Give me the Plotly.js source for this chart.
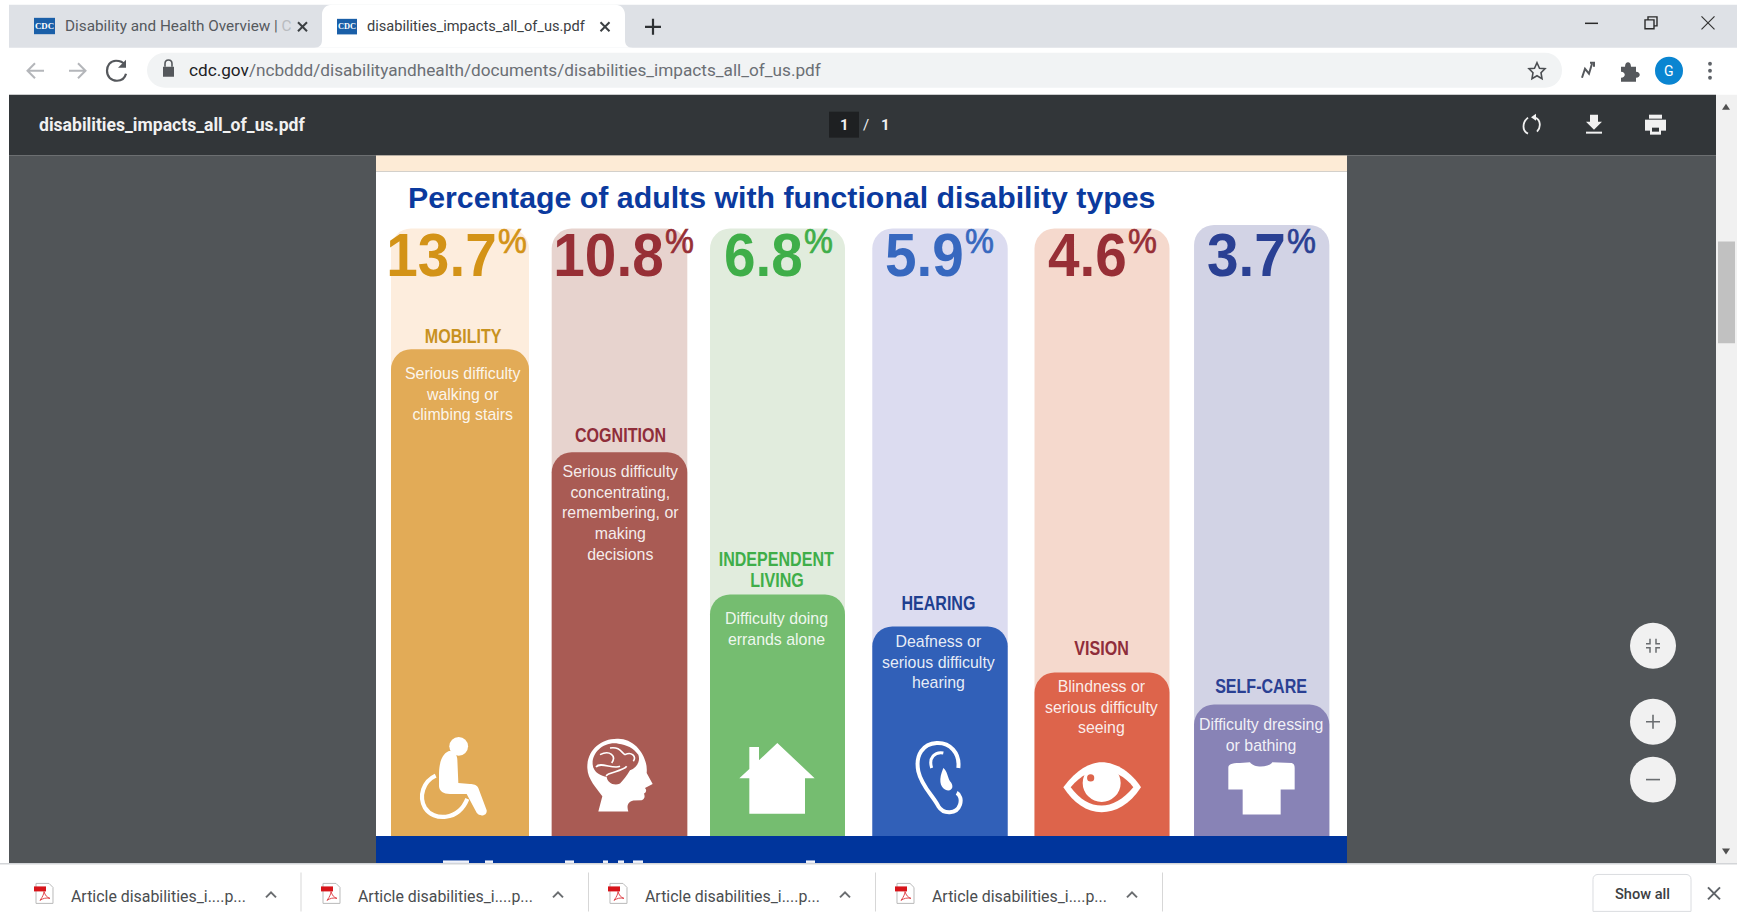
<!DOCTYPE html>
<html>
<head>
<meta charset="utf-8">
<title>Percentage of adults with functional disability types</title>
<script src="https://cdn.plot.ly/plotly-3.0.1.min.js"></script>
<style>html,body{margin:0;padding:0;background:#fff;overflow:hidden}#chart{width:1737px;height:912px}</style>
</head>
<body>
<div id="chart"></div>
<script>
// ---- chart data ----
const categories = ['MOBILITY', 'COGNITION', 'INDEPENDENT LIVING', 'HEARING', 'VISION', 'SELF-CARE'];
const labelLines = [['MOBILITY'], ['COGNITION'], ['INDEPENDENT', 'LIVING'], ['HEARING'], ['VISION'], ['SELF-CARE']];
const prevalence = [13.7, 10.8, 6.8, 5.9, 4.6, 3.7];
const panelHeight = [17.1, 17.1, 17.1, 17.1, 17.1, 17.2];
const descriptions = [
  'Serious difficulty<br>walking or<br>climbing stairs',
  'Serious difficulty<br>concentrating,<br>remembering, or<br>making<br>decisions',
  'Difficulty doing<br>errands alone',
  'Deafness or<br>serious difficulty<br>hearing',
  'Blindness or<br>serious difficulty<br>seeing',
  'Difficulty dressing<br>or bathing'
];
const chartTitle = 'Percentage of adults with functional disability types';

// ---- styles ----
const panelColors = ['#fdeddd', '#e7d3ce', '#e1ecdd', '#dcdcf0', '#f5d9cd', '#d2d3e5'];
const barColors = ['#e2ab57', '#a95b54', '#75bd70', '#3160b8', '#dd644b', '#8883b6'];
const numberColors = ['#d39317', '#972f36', '#3fae49', '#3768bf', '#972f36', '#2a4093'];
const labelColors = ['#c8921f', '#8f2d3a', '#3fae49', '#1f3f90', '#8f2d3a', '#2a4093'];
const slotNudge = [0, -0.5, -2.5, 0, 2, 1.7];   // px
const barPx = [138, 135.6, 135, 135.4, 135, 135.3];
const numberJoin = [37, 44, 22.5, 23.5, 27, 26]; // px right of slot centre
const labelShiftX = [2.7, 0, -3.4, -1.5, 1.7, 0.7];
const labelGap = [14, 18, 35.5, 24, 25, 19];
const descGap = [25, 20, 25, 16, 14, 20];

// ---- page geometry ----
const W = 1737, H = 912, L = 380, R = 397, T = 224.5, B = 75.5;
const PW = W - L - R, PH = H - T - B, SLOT = PW / 6;
const px = x => (x - L) / PW;
const py = y => (H - B - y) / PH;
const shapes = [], annos = [];

function rect(x0, y0, x1, y1, fill, layer) {
  shapes.push({type:'rect', xref:'paper', yref:'paper', x0:px(x0), x1:px(x1), y0:py(y0), y1:py(y1),
    fillcolor:fill, line:{width:0}, layer:layer||'below'});
}
function circ(cx, cy, r, fill, layer) {
  shapes.push({type:'circle', xref:'paper', yref:'paper', x0:px(cx-r), x1:px(cx+r), y0:py(cy-r), y1:py(cy+r),
    fillcolor:fill, line:{width:0}, layer:layer||'above'});
}
function path(str, o) {
  o = o || {};
  const ox = o.ox||0, oy = o.oy||0, k = o.k||1;
  let isX = true;
  const d = str.replace(/-?\d+(\.\d+)?/g, n => {
    const v = Number(n);
    const out = isX ? px(ox + v*k) : py(oy + v*k);
    isX = !isX;
    return out.toFixed(5);
  });
  shapes.push({type:'path', xref:'paper', yref:'paper', path:d,
    fillcolor:o.fill||'rgba(0,0,0,0)', line:{width:o.w||0, color:o.stroke||'rgba(0,0,0,0)'}, layer:o.layer||'above'});
}
function txt(x, y, text, size, color, o) {
  o = o || {};
  annos.push({xref:'paper', yref:'paper', x:px(x), y:py(y), text:text, showarrow:false,
    xanchor:o.anchor||'left', yanchor:'middle', font:{family:o.family||'Roboto, sans-serif', size:size, color:color, weight:o.weight||400}});
}

// ---- browser window ----
rect(0, 0, W, H, '#ffffff');
rect(9, 155, 1716, 863.5, '#515558');
rect(9, 4, W, 47, '#dee1e6');
path('M 314 47 C 320 47 322 44 322 39 L 322 14 C 322 8 326 4 332 4 L 615 4 C 621 4 625 8 625 14 L 625 39 C 625 44 627 47 633 47 Z', {fill:'#ffffff', layer:'below'});
path('M 165 52 L 1545 52 C 1555 52 1562 60 1562 69.5 C 1562 79 1555 87 1545 87 L 165 87 C 155 87 147 79 147 69.5 C 147 60 155 52 165 52 Z', {fill:'#f1f3f4', layer:'below'});
rect(9, 94, 1716, 155, '#323639');
rect(1716, 94, W, 863.5, '#f1f1f1');
rect(1718, 241, 1735, 343, '#c1c1c1');
path('M 1722 109 L 1730 109 L 1726 103 Z', {fill:'#505050'});
path('M 1722 849 L 1730 849 L 1726 855 Z', {fill:'#505050'});
rect(0, 863.5, W, 865, '#d3d5d8');

// tabs
function favicon(x, y, s) {
  rect(x, y, x+s, y+s*0.78, '#1a5fa8', 'above');
  annos.push({xref:'paper', yref:'paper', x:px(x+s/2), y:py(y+s*0.38), text:'CDC', showarrow:false, xanchor:'center', yanchor:'middle',
    font:{family:'Liberation Serif, serif', size:s*0.42, color:'#ffffff', weight:700}});
}
favicon(34, 17, 21);
favicon(337, 18, 20);
txt(63, 25, 'Disability and Health Overview | <span style="color:#b9bcc0">C</span>', 15.3, '#55595e');
txt(365, 25, 'disabilities_impacts_all_of_us.pdf', 14.6, '#3c4043');
function cross(cx, cy, r, color, w) {
  path(`M ${cx-r} ${cy-r} L ${cx+r} ${cy+r} M ${cx+r} ${cy-r} L ${cx-r} ${cy+r}`, {stroke:color, w:w||2});
}
cross(302.5, 26, 4.5, '#3c4043');
cross(605, 26, 4.5, '#3c4043');
path('M 653 18 L 653 34 M 645 26 L 661 26', {stroke:'#2e3134', w:2.2});
// window controls
path('M 1585 22.5 L 1598 22.5', {stroke:'#2a2a2a', w:1.5});
path('M 1645 19 L 1654 19 L 1654 28 L 1645 28 Z M 1648 19 L 1648 16 L 1657 16 L 1657 25 L 1654 25', {stroke:'#2a2a2a', w:1.4});
cross(1708, 22, 6.5, '#333333', 1.2);

// omnibox row
path('M 44 70 L 28 70 M 35 62.5 L 27.5 70 L 35 77.5', {stroke:'#b4b6ba', w:2});
path('M 69 70 L 85 70 M 78 62.5 L 85.5 70 L 78 77.5', {stroke:'#b4b6ba', w:2});
path('M 125 64 C 122 60 118 60 116 60 C 110 60 107 65 107 70 C 107 76 111 80 117 80 C 122 80 125 77 126 73', {stroke:'#55585c', w:2.2});
path('M 126 59 L 126 67 L 118 67 Z', {fill:'#55585c'});
rect(163, 66, 174, 76, '#55585c', 'above');
path('M 165 66 L 165 63 C 165 58 172 58 172 63 L 172 66', {stroke:'#55585c', w:1.6});
txt(187, 69, 'cdc.gov<span style="color:#6b6f74">/ncbddd/disabilityandhealth/documents/disabilities_impacts_all_of_us.pdf</span>', 17.2, '#202124');
path('M 1537 62 L 1539.5 67.5 L 1545 68 L 1541 72 L 1542 78 L 1537 75 L 1532 78 L 1533 72 L 1529 68 L 1534.5 67.5 Z', {stroke:'#4a4d51', w:1.6});
path('M 1582 77 L 1585 68 L 1589 73 L 1592 63 M 1590 62 L 1594 62 L 1594 66', {stroke:'#55585c', w:2});
path('M 1621 66 L 1625 66 C 1625 60 1631 60 1631 66 L 1636 66 L 1636 71 C 1641 71 1641 77 1636 77 L 1636 81 L 1621 81 L 1621 77 C 1626 77 1626 71 1621 71 Z', {fill:'#55585c'});
circ(1669, 70, 14, '#0a85d1');
txt(1669, 70, 'G', 14, '#ffffff', {anchor:'center'});
circ(1710, 63, 1.9, '#5f6368'); circ(1710, 70, 1.9, '#5f6368'); circ(1710, 77, 1.9, '#5f6368');

// pdf viewer toolbar
txt(37, 124, 'disabilities_impacts_all_of_us.pdf', 17.6, '#f1f1f1', {weight:700});
rect(829, 111, 859, 137, '#1e2022');
txt(844, 124, '1', 15, '#f1f1f1', {anchor:'center', weight:700});
txt(866, 124, '/', 15, '#f1f1f1', {anchor:'center'});
txt(885, 124, '1', 15, '#f1f1f1', {anchor:'center', weight:700});
path('M 1528 117 C 1522 122 1522 130 1528 133 M 1537 131 C 1541 127 1541 119 1535 117', {stroke:'#f1f1f1', w:1.8});
path('M 1536 113 L 1536 120 L 1531 116.5 Z', {fill:'#f1f1f1'});
path('M 1590 114 L 1598 114 L 1598 121 L 1602 121 L 1594 129 L 1586 121 L 1590 121 Z', {fill:'#f1f1f1'});
rect(1586, 131, 1602, 133, '#f1f1f1', 'above');
rect(1649, 114, 1662, 118, '#f1f1f1', 'above');
rect(1645, 119, 1666, 130, '#f1f1f1', 'above');
rect(1650, 126, 1661, 134, '#f1f1f1', 'above');
rect(1652, 127, 1659, 131, '#323639', 'above');

// zoom buttons
circ(1653, 646, 23, '#f1f1f1', 'below');
circ(1653, 722, 23, '#f1f1f1', 'below');
circ(1653, 780, 23, '#f1f1f1', 'below');
path('M 1650 639 L 1650 644 L 1646 644 M 1656 639 L 1656 644 L 1660 644 M 1650 653 L 1650 648 L 1646 648 M 1656 653 L 1656 648 L 1660 648', {stroke:'#6a6d70', w:1.5});
path('M 1653 715 L 1653 729 M 1646 722 L 1660 722', {stroke:'#6a6d70', w:1.6});
path('M 1646 780 L 1660 780', {stroke:'#6a6d70', w:1.6});

// paper
rect(376, 155, 1347, 171, '#fdebd6');
rect(376, 171, 1347, 836.5, '#ffffff');
rect(376, 836.5, 1347, 863.5, '#00359c');
[[443,469],[485,493],[565,574],[603,608],[618,624],[633,643],[806,815]].forEach(s => rect(s[0], 861, s[1], 863.5, '#f2f4fa'));

// downloads bar
[34, 321, 608, 895].forEach(x => {
  path(`M ${x+2} 884 L ${x+15} 884 L ${x+19} 888 L ${x+19} 904 L ${x+2} 904 Z`, {fill:'#ffffff', stroke:'#b9b9b9', w:1});
  rect(x, 887, x+12, 892, '#d7141a', 'above');
  path(`M ${x+6} 901 C ${x+9} 897 ${x+10} 894 ${x+10} 892 C ${x+11} 896 ${x+13} 898 ${x+16} 899 C ${x+12} 898 ${x+9} 899 ${x+6} 901`, {stroke:'#e1474d', w:1});
  txt(x+35, 897.5, 'Article disabilities_i....p...', 15.9, '#4a4d50');
  path(`M ${x+232} 898 L ${x+237} 893 L ${x+242} 898`, {stroke:'#6a6d70', w:2});
});
[300.5, 588, 875, 1162].forEach(x => rect(x, 873, x+1, 912, '#d7d7d7'));
path('M 1598 875 L 1686 875 C 1689 875 1691 877 1691 880 L 1691 912 L 1593 912 L 1593 880 C 1593 877 1595 875 1598 875 Z', {fill:'#ffffff', stroke:'#dadce0', w:1});
txt(1642, 895, 'Show all', 14.6, '#3c4043', {anchor:'center', weight:500});
cross(1714, 894, 6, '#5f6368', 2);

// ---- icons, traced in zoomed frames of the infographic ----
const Lf = {ox:370, oy:640, k:1/3}, Rt = {ox:860, oy:640, k:1/3};
const F = (f, extra) => Object.assign({}, f, extra);
circ(458.7, 746.7, 9.4, '#ffffff');
path('M 235 335 C 215 345 208 370 207 400 L 207 440 C 208 455 220 463 240 463 L 290 463 L 320 520 C 328 532 352 530 350 512 L 325 445 C 320 435 310 433 300 433 L 265 430 L 262 360 C 262 345 250 330 235 335 Z', F(Lf,{fill:'#ffffff'}));
path('M 197 408 C 160 425 145 470 165 505 C 190 545 265 545 292 478', F(Lf,{stroke:'#ffffff', w:4.2}));
path('M 745 297 C 690 295 650 335 652 385 C 653 420 680 445 697 470 L 685 516 L 775 516 C 770 500 772 488 790 483 L 815 482 C 825 478 825 470 822 462 C 830 458 830 450 825 445 L 848 433 L 830 400 C 835 350 795 297 745 297 Z', F(Lf,{fill:'#ffffff'}));
path('M 745 312 C 700 305 665 340 668 375 C 670 400 695 410 710 412 C 712 428 730 440 750 432 C 760 420 770 410 780 392 C 800 385 812 365 805 345 C 790 325 770 315 745 312 Z', F(Lf,{fill:'#a95b54'}));
path('M 678 382 C 690 365 730 390 750 380 M 690 345 C 720 330 740 350 725 370 M 720 325 C 750 320 755 340 765 345 C 785 335 800 350 790 365 M 710 410 C 705 400 760 395 770 380', F(Lf,{stroke:'#ffffff', w:1.6}));
path('M 1222 310 L 1334 416 L 1305 416 L 1305 523 L 1138 523 L 1138 416 L 1108 416 L 1138 388 L 1138 322 L 1167 322 L 1167 362 Z', F(Lf,{fill:'#ffffff'}));
path('M 295 385 C 300 340 270 308 230 310 C 190 312 165 345 175 395 C 185 440 220 470 235 500 C 250 525 290 525 300 495 C 305 480 300 465 290 460', F(Rt,{stroke:'#ffffff', w:4}));
path('M 215 385 C 205 355 225 335 250 340', F(Rt,{stroke:'#ffffff', w:3}));
path('M 250 385 C 235 420 240 440 255 450 C 275 460 285 440 270 425 C 262 410 262 395 250 385 Z', F(Rt,{fill:'#ffffff'}));
path('M 610 443 C 650 390 690 368 725 368 C 770 368 815 400 843 443 C 810 495 765 518 725 518 C 680 518 640 490 610 443 Z', F(Rt,{fill:'#ffffff'}));
path('M 632 443 C 665 405 695 393 725 393 C 760 393 795 410 820 443 C 790 480 755 498 725 498 C 690 498 660 480 632 443 Z', F(Rt,{fill:'#dd644b'}));
circ(860+725/3, 640+430/3, 19, '#ffffff');
circ(860+692/3, 640+415/3, 3.6, '#dd644b');
path('M 1140 370 L 1170 368 C 1180 385 1225 385 1237 368 L 1295 370 C 1302 372 1304 378 1304 385 L 1304 450 L 1262 450 L 1262 525 L 1148 525 L 1148 450 L 1105 450 L 1105 385 C 1105 375 1112 370 1140 370 Z', F(Rt,{fill:'#ffffff'}));

// ---- chart text, tied to the scales ----
const sans = 'Liberation Sans, Arial, sans-serif';
categories.forEach((c, i) => {
  annos.push({xref:'x', yref:'y', x:c, y:panelHeight[0], yanchor:'top', xanchor:'right', yshift:10, xshift:numberJoin[i]+2,
    text:prevalence[i].toFixed(1), showarrow:false,
    font:{family:sans, size:61, color:numberColors[i], weight:700}});
  annos.push({xref:'x', yref:'y', x:c, y:panelHeight[0], yanchor:'top', xanchor:'left', yshift:9.5, xshift:numberJoin[i]-1,
    text:'%', showarrow:false,
    font:{family:sans, size:35, color:numberColors[i]}});
  labelLines[i].forEach((line, k) => {
    annos.push({xref:'x', yref:'y', x:c, y:prevalence[i], yanchor:'middle', xanchor:'center',
      xshift:labelShiftX[i], yshift:labelGap[i]-k*21, text:line, showarrow:false,
      font:{family:sans, size:21, color:labelColors[i], weight:700}});
  });
  annos.push({xref:'x', yref:'y', x:c, y:prevalence[i], yanchor:'top', xanchor:'center',
    xshift:labelShiftX[i], yshift:-(descGap[i]-11), text:descriptions[i], showarrow:false,
    font:{family:sans, size:15.9, color:'rgba(255,255,255,0.9)'}});
});

// The value bars sit on a second, identical axis pair: in one overlay subplot the taller
// panels would count as "stacked above" them and suppress their rounded tops.
const traces = [
  {type:'bar', name:'Panel', x:categories, y:panelHeight, marker:{color:panelColors, cornerradius:20},
   width:barPx.map(p => p/SLOT), offset:barPx.map((p,i) => (slotNudge[i]-p/2)/SLOT), hoverinfo:'skip', showlegend:false},
  {type:'bar', name:'Percentage of adults', x:categories, y:prevalence, xaxis:'x2', yaxis:'y2', marker:{color:barColors, cornerradius:20},
   width:barPx.map(p => p/SLOT), offset:barPx.map((p,i) => (slotNudge[i]-p/2)/SLOT), hoverinfo:'skip', showlegend:false}
];

const xAxisBase = {type:'category', categoryorder:'array', categoryarray:categories, range:[-0.5,5.5], visible:false, fixedrange:true};
const yAxisBase = {range:[0,17.2], visible:false, fixedrange:true};
const layout = {
  width:W, height:H, margin:{l:L, r:R, t:T, b:B, pad:0}, autosize:false,
  paper_bgcolor:'#ffffff', plot_bgcolor:'rgba(0,0,0,0)',
  barmode:'overlay', hovermode:false, showlegend:false,
  title:{text:chartTitle, xref:'container', yref:'container', x:408/W, xanchor:'left', y:1-197.5/H, yanchor:'middle',
    font:{family:sans, size:30.3, color:'#0b3a9e', weight:700}},
  xaxis:xAxisBase, yaxis:yAxisBase,
  xaxis2:Object.assign({}, xAxisBase, {overlaying:'x'}),
  yaxis2:Object.assign({}, yAxisBase, {overlaying:'y'}),
  shapes:shapes, annotations:annos
};

// the source uses condensed display type: narrow those labels horizontally
function squeeze(el, k, anchorFrac) {
  const b = el.getBBox();
  const ax = b.x + b.width*anchorFrac;
  el.setAttribute('transform', `translate(${ax} 0) scale(${k} 1) translate(${-ax} 0)`);
}
Plotly.newPlot('chart', traces, layout, {displayModeBar:false, staticPlot:true}).then(() => {
  const condensed = new Set(labelLines.flat());
  const numbers = new Set(prevalence.map(v => v.toFixed(1)));
  let pct = 0;
  document.querySelectorAll('.annotation-text').forEach(el => {
    const t = el.textContent;
    if (condensed.has(t)) squeeze(el, 0.765, 0.5);
    else if (numbers.has(t)) squeeze(el, 0.93, 1);
    else if (t === '%') { el.style.stroke = numberColors[pct++]; el.style.strokeWidth = '0.7px'; squeeze(el, 0.93, 0); }
  });
});
</script>
</body>
</html>
